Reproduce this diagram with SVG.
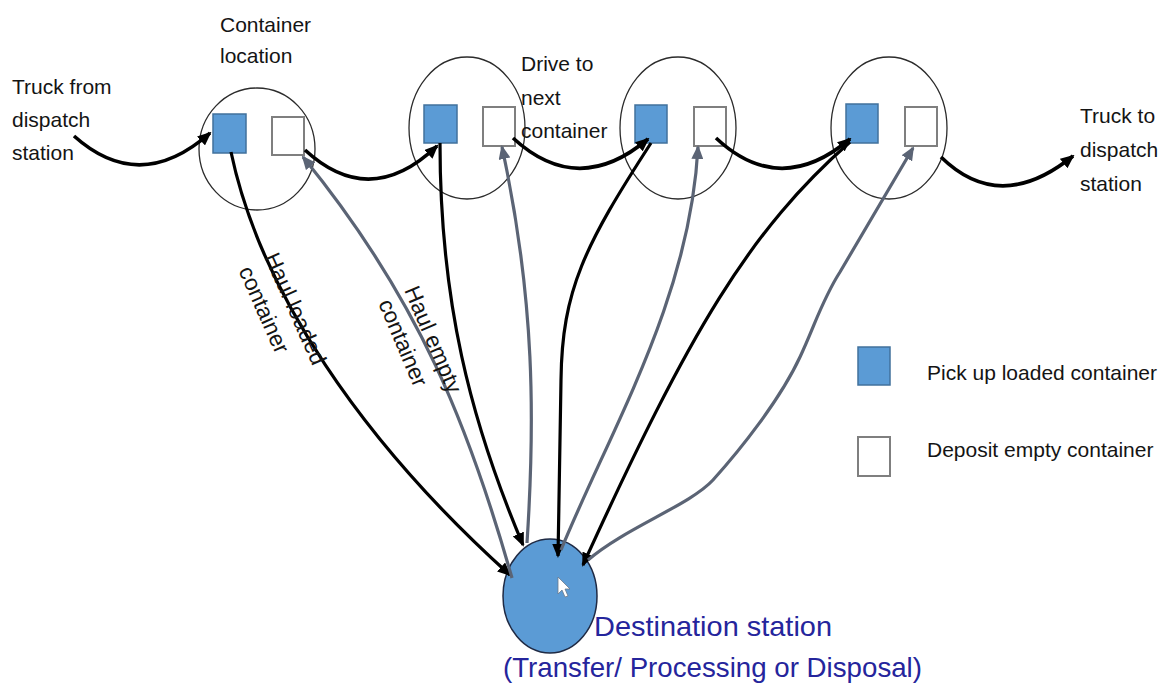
<svg xmlns="http://www.w3.org/2000/svg" width="1173" height="691" viewBox="0 0 1173 691">
  <style>
    .lbl { font-family: "Liberation Sans", Arial, sans-serif; font-size: 21px; fill: #141414; }
    .rot { font-family: "Liberation Sans", Arial, sans-serif; font-size: 22.5px; fill: #141414; }
    .dest { font-family: "Liberation Sans", Arial, sans-serif; font-size: 28px; fill: #25259c; }
    .loc { fill: none; stroke: #2b2b2b; stroke-width: 1.3; }
    .full { fill: #5b9bd5; stroke: #41719c; stroke-width: 1.5; }
    .empty { fill: #ffffff; stroke: #7f7f7f; stroke-width: 2; }
    .drive { fill: none; stroke: #000000; stroke-width: 3.6; marker-end: url(#ah-k); }
    .haul { fill: none; stroke: #000000; stroke-width: 3.2; marker-end: url(#ah-k); }
    .back { fill: none; stroke: #5b6475; stroke-width: 3.2; marker-end: url(#ah-g); }
  </style>
  <defs>
    <marker id="ah-k" viewBox="0 0 14 12" refX="12" refY="6" markerWidth="14" markerHeight="12" markerUnits="userSpaceOnUse" orient="auto">
      <path d="M0,0 L14,6 L0,12 z" fill="#000000"/>
    </marker>
    <marker id="ah-g" viewBox="0 0 14 12" refX="12" refY="6" markerWidth="14" markerHeight="12" markerUnits="userSpaceOnUse" orient="auto">
      <path d="M0,0 L14,6 L0,12 z" fill="#5b6475"/>
    </marker>
  </defs>

  <rect width="1173" height="691" fill="#ffffff"/>

  <!-- container locations -->
  <g id="loc1">
    <ellipse class="loc" cx="257" cy="149" rx="58" ry="61"/>
    <rect class="full" x="213" y="114" width="33" height="39"/>
    <rect class="empty" x="272" y="117" width="32" height="38"/>
  </g>
  <g id="loc2">
    <ellipse class="loc" cx="467" cy="128" rx="58" ry="71"/>
    <rect class="full" x="424" y="105" width="33" height="38"/>
    <rect class="empty" x="483" y="107" width="32" height="39"/>
  </g>
  <g id="loc3">
    <ellipse class="loc" cx="678" cy="128" rx="58" ry="71"/>
    <rect class="full" x="635" y="105" width="32" height="38"/>
    <rect class="empty" x="694" y="107" width="32" height="39"/>
  </g>
  <g id="loc4">
    <ellipse class="loc" cx="889" cy="128" rx="58" ry="71"/>
    <rect class="full" x="846" y="104" width="32" height="39"/>
    <rect class="empty" x="905" y="107" width="32" height="39"/>
  </g>

  <!-- destination station -->
  <g id="destination">
    <ellipse cx="550" cy="596" rx="47" ry="57" fill="#5b9bd5" stroke="#1f2a44" stroke-width="1.5"/>
    <!-- mouse pointer -->
    <path d="M558,577 L558,594 L562,590 L565,597 L568,596 L565,589 L570,589 z" fill="#ffffff" stroke="#6b7a8c" stroke-width="0.8"/>
    <text class="dest" x="594" y="636" textLength="238" lengthAdjust="spacingAndGlyphs">Destination station</text>
    <text class="dest" x="503" y="677" textLength="419" lengthAdjust="spacingAndGlyphs">(Transfer/ Processing or Disposal)</text>
  </g>

  <!-- connectors -->
  <g id="connectors">
    <!-- driving between locations -->
    <path class="drive" d="M74,136 Q140,195 210,133"/>
    <path class="drive" d="M305,150 Q370,210 437,146"/>
    <path class="drive" d="M513,138 Q578,198 648,139"/>
    <path class="drive" d="M716,138 Q780,198 850,139"/>
    <path class="drive" d="M941,157 Q1000,215 1073,156"/>
    <!-- haul loaded containers -->
    <path class="haul" d="M231,152 C260,290 360,440 510,575"/>
    <path class="haul" d="M440,143 C440,300 470,420 523,545"/>
    <path class="haul" d="M651,143 C585,245 562,290 561,380 C560,450 559,500 558,556"/>
    <path class="haul" d="M850,142 C750,230 690,330 583,565"/>
    <!-- return empty containers -->
    <path class="back" d="M512,578 C470,430 420,300 303,157"/>
    <path class="back" d="M527,543 C535,420 535,300 502,147"/>
    <path class="back" d="M561,550 C610,430 690,300 698,147"/>
    <path class="back" d="M588,560 C625,528 690,505 713,480 C740,450 780,400 800,357 C815,325 822,300 840,272 L913,148"/>
  </g>

  <!-- labels -->
  <g id="labels">
    <text class="lbl" x="220" y="32">Container</text>
    <text class="lbl" x="220" y="63">location</text>
    <text class="lbl" x="12" y="94">Truck from</text>
    <text class="lbl" x="12" y="127">dispatch</text>
    <text class="lbl" x="12" y="160">station</text>
    <text class="lbl" x="521" y="71">Drive to</text>
    <text class="lbl" x="521" y="105">next</text>
    <text class="lbl" x="521" y="138">container</text>
    <text class="lbl" x="1080" y="123">Truck to</text>
    <text class="lbl" x="1080" y="157">dispatch</text>
    <text class="lbl" x="1080" y="191">station</text>
    <g transform="translate(264,257) rotate(66)">
      <text class="rot" x="0" y="0">Haul loaded</text>
      <text class="rot" x="2" y="29">container</text>
    </g>
    <g transform="translate(404,290) rotate(67)">
      <text class="rot" x="0" y="0">Haul empty</text>
      <text class="rot" x="2" y="29">container</text>
    </g>
  </g>

  <!-- legend -->
  <g id="legend">
    <rect class="full" x="858" y="347" width="32" height="38"/>
    <text class="lbl" x="927" y="380">Pick up loaded container</text>
    <rect class="empty" x="858" y="437" width="32" height="39"/>
    <text class="lbl" x="927" y="457">Deposit empty container</text>
  </g>
</svg>
